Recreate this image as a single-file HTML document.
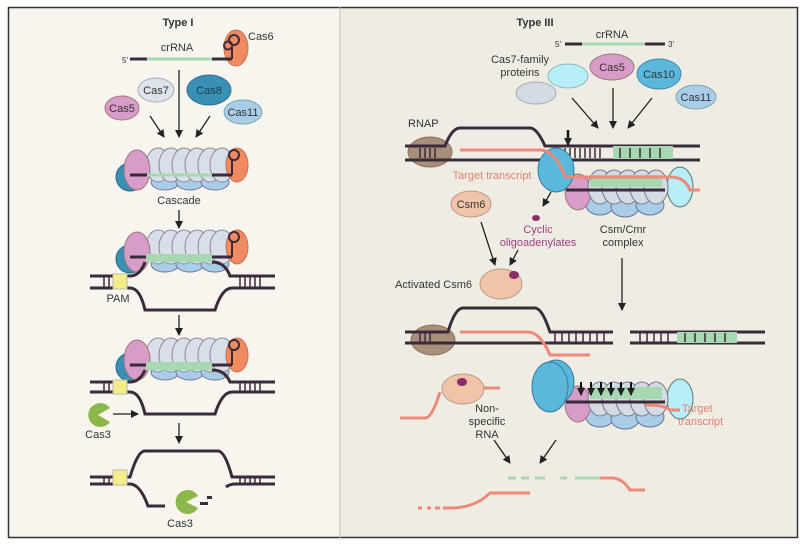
<!DOCTYPE html>
<html><head><meta charset="utf-8"><style>
html,body{margin:0;padding:0;background:#fff;}
svg{display:block;font-family:"Liberation Sans",sans-serif;}
</style></head><body>
<svg width="800" height="546" viewBox="0 0 800 546" xmlns="http://www.w3.org/2000/svg">
<defs>
<marker id="ah" markerWidth="8" markerHeight="8" refX="7" refY="4" orient="auto" markerUnits="userSpaceOnUse"><path d="M0,0 L8,4 L0,8 Z" fill="#222"/></marker>
</defs>
<rect x="0" y="0" width="800" height="546" fill="#fff"/>
<rect x="8" y="7" width="332" height="531" fill="#f7f5ee"/>
<rect x="340" y="7" width="458" height="531" fill="#efede3"/>
<rect x="8.5" y="7.5" width="789" height="530" fill="none" stroke="#333" stroke-width="1.5"/>
<line x1="340" y1="7" x2="340" y2="538" stroke="#bbb" stroke-width="1"/>

<g font-size="11" fill="#333">
<!-- ===== TYPE I ===== -->
<text x="178" y="26" font-weight="bold" text-anchor="middle" font-size="11">Type I</text>
<text x="177" y="51" text-anchor="middle">crRNA</text>
<text x="122" y="63" font-size="8">5′</text>
<ellipse cx="236" cy="48" rx="12" ry="18" fill="#f08a60" stroke="#c9704a"/>
<line x1="130" y1="59" x2="232" y2="59" stroke="#3a2a3a" stroke-width="3"/>
<line x1="147" y1="59" x2="212" y2="59" stroke="#a8d8b0" stroke-width="3"/>
<path d="M232,59 V46 a4,4 0 1 1 0,-1" fill="none" stroke="#3a2a3a" stroke-width="2"/>
<circle cx="234" cy="40" r="5" fill="none" stroke="#3a2a3a" stroke-width="2"/>
<text x="248" y="40">Cas6</text>
<line x1="179" y1="70" x2="179" y2="137" stroke="#222" stroke-width="1.3" marker-end="url(#ah)"/>
<ellipse cx="156" cy="90" rx="18" ry="12" fill="#dde3ea" stroke="#aab"/>
<text x="156" y="94" text-anchor="middle">Cas7</text>
<ellipse cx="209" cy="90" rx="22" ry="15" fill="#3a8fb5" stroke="#2a7095"/>
<text x="209" y="94" text-anchor="middle" fill="#1d3b4f">Cas8</text>
<ellipse cx="122" cy="108" rx="17" ry="12" fill="#d79cc8" stroke="#a77"/>
<text x="122" y="112" text-anchor="middle">Cas5</text>
<ellipse cx="243" cy="112" rx="19" ry="12" fill="#a9cde8" stroke="#7aa"/>
<text x="243" y="116" text-anchor="middle">Cas11</text>
<line x1="150" y1="116" x2="164" y2="137" stroke="#222" stroke-width="1.3" marker-end="url(#ah)"/>
<line x1="210" y1="116" x2="196" y2="137" stroke="#222" stroke-width="1.3" marker-end="url(#ah)"/>

<!-- cascade complex generic -->
<g id="casc">
<ellipse cx="130" cy="177" rx="14" ry="14" fill="#3a8fb5" stroke="#2a6a8a"/>
<ellipse cx="165" cy="182" rx="14" ry="8" fill="#a9cde8" stroke="#779"/>
<ellipse cx="190" cy="182" rx="14" ry="8" fill="#a9cde8" stroke="#779"/>
<ellipse cx="215" cy="182" rx="14" ry="8" fill="#a9cde8" stroke="#779"/>
<ellipse cx="158" cy="165" rx="12" ry="17" fill="#d8dfe8" stroke="#889"/>
<ellipse cx="171" cy="165" rx="12" ry="17" fill="#d8dfe8" stroke="#889"/>
<ellipse cx="184" cy="165" rx="12" ry="17" fill="#d8dfe8" stroke="#889"/>
<ellipse cx="197" cy="165" rx="12" ry="17" fill="#d8dfe8" stroke="#889"/>
<ellipse cx="210" cy="165" rx="12" ry="17" fill="#d8dfe8" stroke="#889"/>
<ellipse cx="222" cy="165" rx="12" ry="17" fill="#d8dfe8" stroke="#889"/>
<ellipse cx="137" cy="170" rx="13" ry="20" fill="#d79cc8" stroke="#977"/>
<ellipse cx="237" cy="165" rx="11" ry="17" fill="#f08a60" stroke="#c9704a"/>
<line x1="130" y1="175" x2="232" y2="175" stroke="#3a2a3a" stroke-width="3"/>
<line x1="147" y1="175" x2="212" y2="175" stroke="#a8d8b0" stroke-width="3"/>
<path d="M232,175 V160" stroke="#3a2a3a" stroke-width="2"/>
<circle cx="234" cy="155" r="5" fill="none" stroke="#3a2a3a" stroke-width="2"/>
</g>
<text x="179" y="204" text-anchor="middle">Cascade</text>
<line x1="179" y1="210" x2="179" y2="228" stroke="#222" stroke-width="1.3" marker-end="url(#ah)"/>

<!-- second -->
<use href="#casc" transform="translate(0,82)"/>
<rect x="146" y="254" width="66" height="8" fill="#a8d8b0"/>
<path d="M90,276 H130 Q140,276 145,262 M212,262 Q225,262 230,276 H275" fill="none" stroke="#3a2a3a" stroke-width="3"/>
<path d="M90,288 H130 Q140,288 145,310 H215 Q222,288 232,288 H275" fill="none" stroke="#3a2a3a" stroke-width="3"/>
<rect x="113" y="274" width="14" height="15" fill="#f5ec8a" stroke="#bba"/>
<g stroke="#3a2a3a" stroke-width="1.5"><line x1="104" y1="277" x2="104" y2="287"/><line x1="109" y1="277" x2="109" y2="287"/><line x1="240" y1="277" x2="240" y2="287"/><line x1="245" y1="277" x2="245" y2="287"/><line x1="250" y1="277" x2="250" y2="287"/><line x1="255" y1="277" x2="255" y2="287"/><line x1="260" y1="277" x2="260" y2="287"/></g>
<text x="118" y="302" text-anchor="middle">PAM</text>
<line x1="179" y1="315" x2="179" y2="335" stroke="#222" stroke-width="1.3" marker-end="url(#ah)"/>

<!-- third -->
<use href="#casc" transform="translate(0,190)"/>
<rect x="146" y="362" width="66" height="8" fill="#a8d8b0"/>
<path d="M90,382 H130 Q140,382 145,370 M212,370 Q225,370 230,382 H275" fill="none" stroke="#3a2a3a" stroke-width="3"/>
<path d="M90,392 H130 Q140,392 145,414 H215 Q222,392 232,392 H275" fill="none" stroke="#3a2a3a" stroke-width="3"/>
<rect x="113" y="380" width="14" height="14" fill="#f5ec8a" stroke="#bba"/>
<g stroke="#3a2a3a" stroke-width="1.5"><line x1="104" y1="383" x2="104" y2="391"/><line x1="109" y1="383" x2="109" y2="391"/><line x1="240" y1="383" x2="240" y2="391"/><line x1="245" y1="383" x2="245" y2="391"/><line x1="250" y1="383" x2="250" y2="391"/><line x1="255" y1="383" x2="255" y2="391"/><line x1="260" y1="383" x2="260" y2="391"/></g>
<path d="M98,415 L110,408 A12,12 0 1 0 110,422 Z" fill="#8ab84a"/>
<line x1="113" y1="414" x2="138" y2="414" stroke="#222" stroke-width="1.3" marker-end="url(#ah)"/>
<text x="98" y="438" text-anchor="middle">Cas3</text>
<line x1="179" y1="423" x2="179" y2="443" stroke="#222" stroke-width="1.3" marker-end="url(#ah)"/>

<!-- bottom -->
<path d="M90,477 H130 Q138,450 145,451 H218 Q225,451 232,477 H275" fill="none" stroke="#3a2a3a" stroke-width="3"/>
<path d="M90,484 H130 Q140,484 148,506 H165" fill="none" stroke="#3a2a3a" stroke-width="3"/>
<path d="M226,487 Q230,484 235,484 H275" fill="none" stroke="#3a2a3a" stroke-width="3"/>
<rect x="113" y="470" width="14" height="15" fill="#f5ec8a" stroke="#bba"/>
<g stroke="#3a2a3a" stroke-width="1.5"><line x1="104" y1="478" x2="104" y2="484"/><line x1="109" y1="478" x2="109" y2="484"/><line x1="240" y1="478" x2="240" y2="484"/><line x1="245" y1="478" x2="245" y2="484"/><line x1="250" y1="478" x2="250" y2="484"/><line x1="255" y1="478" x2="255" y2="484"/><line x1="260" y1="478" x2="260" y2="484"/></g>
<path d="M186,502 L198,496 A12,12 0 1 0 198,508 Z" fill="#8ab84a"/>
<rect x="200" y="502" width="8" height="3" fill="#3a2a3a"/><rect x="207" y="496" width="5" height="3" fill="#3a2a3a"/>
<text x="180" y="527" text-anchor="middle">Cas3</text>

<!-- ===== TYPE III ===== -->
<text x="535" y="26" font-weight="bold" text-anchor="middle">Type III</text>
<text x="612" y="38" text-anchor="middle">crRNA</text>
<text x="555" y="47" font-size="8">5′</text>
<text x="668" y="47" font-size="8">3′</text>
<line x1="565" y1="44" x2="665" y2="44" stroke="#3a2a3a" stroke-width="3"/>
<line x1="582" y1="44" x2="645" y2="44" stroke="#a8d8b0" stroke-width="3"/>
<text x="520" y="63" text-anchor="middle">Cas7-family</text>
<text x="520" y="76" text-anchor="middle">proteins</text>
<ellipse cx="568" cy="76" rx="20" ry="12" fill="#b8eef8" stroke="#8bb"/>
<ellipse cx="536" cy="93" rx="20" ry="11" fill="#d3dbe3" stroke="#aab"/>
<ellipse cx="612" cy="67" rx="22" ry="13" fill="#d79cc8" stroke="#977"/>
<text x="612" y="71" text-anchor="middle">Cas5</text>
<ellipse cx="659" cy="74" rx="22" ry="15" fill="#5bb8dd" stroke="#3a8ab0"/>
<text x="659" y="78" text-anchor="middle">Cas10</text>
<ellipse cx="696" cy="97" rx="20" ry="12" fill="#a9cde8" stroke="#7aa"/>
<text x="696" y="101" text-anchor="middle">Cas11</text>
<line x1="572" y1="98" x2="598" y2="128" stroke="#222" stroke-width="1.3" marker-end="url(#ah)"/>
<line x1="613" y1="88" x2="613" y2="128" stroke="#222" stroke-width="1.3" marker-end="url(#ah)"/>
<line x1="652" y1="98" x2="628" y2="128" stroke="#222" stroke-width="1.3" marker-end="url(#ah)"/>

<text x="408" y="127">RNAP</text>
<ellipse cx="430" cy="152" rx="22" ry="15" fill="#a88f7a" stroke="#8a7060"/>
<path d="M405,146 H445 Q452,128 460,128 H530 Q537,128 545,146 H700" fill="none" stroke="#3a2a3a" stroke-width="3"/>
<path d="M405,160 H700" fill="none" stroke="#3a2a3a" stroke-width="3"/>
<rect x="613" y="146" width="60" height="13" fill="#a8d8b0"/>
<g stroke="#3a2a3a" stroke-width="1.5"><line x1="420" y1="148" x2="420" y2="158"/><line x1="425" y1="148" x2="425" y2="158"/><line x1="430" y1="148" x2="430" y2="158"/><line x1="435" y1="148" x2="435" y2="158"/><line x1="555" y1="148" x2="555" y2="158"/><line x1="560" y1="148" x2="560" y2="158"/><line x1="565" y1="148" x2="565" y2="158"/><line x1="570" y1="148" x2="570" y2="158"/><line x1="575" y1="148" x2="575" y2="158"/><line x1="580" y1="148" x2="580" y2="158"/><line x1="585" y1="148" x2="585" y2="158"/><line x1="590" y1="148" x2="590" y2="158"/><line x1="595" y1="148" x2="595" y2="158"/><line x1="600" y1="148" x2="600" y2="158"/><line x1="620" y1="148" x2="620" y2="158"/><line x1="630" y1="148" x2="630" y2="158"/><line x1="640" y1="148" x2="640" y2="158"/><line x1="650" y1="148" x2="650" y2="158"/><line x1="660" y1="148" x2="660" y2="158"/></g>
<line x1="568" y1="130" x2="568" y2="145" stroke="#111" stroke-width="2.5" marker-end="url(#ah)"/>
<!-- csm complex -->
<g id="csm">
<ellipse cx="680" cy="187" rx="13" ry="20" fill="#b8eef8" stroke="#577"/>
<ellipse cx="600" cy="205" rx="14" ry="10" fill="#a9cde8" stroke="#679"/>
<ellipse cx="625" cy="207" rx="14" ry="10" fill="#a9cde8" stroke="#679"/>
<ellipse cx="650" cy="205" rx="14" ry="10" fill="#a9cde8" stroke="#679"/>
<ellipse cx="578" cy="192" rx="13" ry="18" fill="#d79cc8" stroke="#977"/>
<ellipse cx="600" cy="187" rx="12" ry="17" fill="#d3dbe3" stroke="#778"/>
<ellipse cx="614" cy="187" rx="12" ry="17" fill="#d3dbe3" stroke="#778"/>
<ellipse cx="628" cy="187" rx="12" ry="17" fill="#d3dbe3" stroke="#778"/>
<ellipse cx="642" cy="187" rx="12" ry="17" fill="#d3dbe3" stroke="#778"/>
<ellipse cx="656" cy="187" rx="12" ry="17" fill="#d3dbe3" stroke="#778"/>
<ellipse cx="556" cy="170" rx="18" ry="22" fill="#5bb8dd" stroke="#3a7a9a"/>
<line x1="566" y1="190" x2="665" y2="190" stroke="#3a2a3a" stroke-width="3"/>
<rect x="590" y="175" width="72" height="12" fill="#a8d8b0"/>
</g>
<path d="M460,150 H540 Q555,150 565,177 H670 Q685,177 690,190 H700" fill="none" stroke="#ec8a78" stroke-width="3"/>
<text x="492" y="179" text-anchor="middle" fill="#e08070">Target transcript</text>
<line x1="551" y1="192" x2="543" y2="206" stroke="#222" stroke-width="1.3" marker-end="url(#ah)"/>
<ellipse cx="536" cy="218" rx="4" ry="3" fill="#8a2d6a"/>
<text x="538" y="233" text-anchor="middle" fill="#a04080">Cyclic</text>
<text x="538" y="246" text-anchor="middle" fill="#a04080">oligoadenylates</text>
<text x="623" y="233" text-anchor="middle">Csm/Cmr</text>
<text x="623" y="246" text-anchor="middle">complex</text>
<ellipse cx="471" cy="204" rx="20" ry="13" fill="#f0c4a8" stroke="#b98"/>
<text x="471" y="208" text-anchor="middle">Csm6</text>
<line x1="481" y1="222" x2="495" y2="265" stroke="#222" stroke-width="1.3" marker-end="url(#ah)"/>
<line x1="518" y1="250" x2="510" y2="265" stroke="#222" stroke-width="1.3" marker-end="url(#ah)"/>
<text x="472" y="288" text-anchor="end">Activated Csm6</text>
<ellipse cx="501" cy="284" rx="21" ry="15" fill="#f0c4a8" stroke="#b98"/>
<ellipse cx="514" cy="275" rx="5" ry="4" fill="#8a2d6a"/>
<line x1="622" y1="258" x2="622" y2="310" stroke="#222" stroke-width="1.3" marker-end="url(#ah)"/>

<!-- row DNA -->
<ellipse cx="433" cy="340" rx="22" ry="15" fill="#a88f7a" stroke="#8a7060"/>
<path d="M405,332 H448 Q455,308 463,308 H535 Q542,308 550,332 H613" fill="none" stroke="#3a2a3a" stroke-width="3"/>
<path d="M405,343 H613" fill="none" stroke="#3a2a3a" stroke-width="3"/>
<path d="M630,332 H765 M630,343 H765" fill="none" stroke="#3a2a3a" stroke-width="3"/>
<rect x="677" y="332" width="60" height="11" fill="#a8d8b0"/>
<g stroke="#3a2a3a" stroke-width="1.5"><line x1="420" y1="333" x2="420" y2="342"/><line x1="425" y1="333" x2="425" y2="342"/><line x1="430" y1="333" x2="430" y2="342"/><line x1="555" y1="333" x2="555" y2="342"/><line x1="562" y1="333" x2="562" y2="342"/><line x1="569" y1="333" x2="569" y2="342"/><line x1="576" y1="333" x2="576" y2="342"/><line x1="583" y1="333" x2="583" y2="342"/><line x1="590" y1="333" x2="590" y2="342"/><line x1="597" y1="333" x2="597" y2="342"/><line x1="604" y1="333" x2="604" y2="342"/><line x1="640" y1="333" x2="640" y2="342"/><line x1="647" y1="333" x2="647" y2="342"/><line x1="654" y1="333" x2="654" y2="342"/><line x1="661" y1="333" x2="661" y2="342"/><line x1="668" y1="333" x2="668" y2="342"/><line x1="685" y1="333" x2="685" y2="342"/><line x1="695" y1="333" x2="695" y2="342"/><line x1="705" y1="333" x2="705" y2="342"/><line x1="715" y1="333" x2="715" y2="342"/><line x1="725" y1="333" x2="725" y2="342"/></g>
<path d="M460,332 H528 Q540,332 550,355 H590" fill="none" stroke="#ec8a78" stroke-width="3"/>

<!-- bottom right -->
<path d="M478,388 H500 M440,392 Q432,418 425,418 H400" fill="none" stroke="#ec8a78" stroke-width="3"/>
<ellipse cx="463" cy="389" rx="21" ry="15" fill="#f0c4a8" stroke="#b98"/>
<ellipse cx="462" cy="382" rx="5" ry="4" fill="#8a2d6a"/>
<text x="487" y="412" text-anchor="middle">Non-</text>
<text x="487" y="425" text-anchor="middle">specific</text>
<text x="487" y="438" text-anchor="middle">RNA</text>
<use href="#csm" transform="translate(0,212)"/>
<ellipse cx="550" cy="387" rx="18" ry="25" fill="#5bb8dd" stroke="#3a7a9a"/>
<path d="M645,405 Q665,405 670,410 H680" fill="none" stroke="#ec8a78" stroke-width="3"/>
<g stroke="#111" stroke-width="2"><line x1="581" y1="382" x2="581" y2="395" marker-end="url(#ah)"/><line x1="591" y1="382" x2="591" y2="395" marker-end="url(#ah)"/><line x1="601" y1="382" x2="601" y2="395" marker-end="url(#ah)"/><line x1="611" y1="382" x2="611" y2="395" marker-end="url(#ah)"/><line x1="621" y1="382" x2="621" y2="395" marker-end="url(#ah)"/><line x1="631" y1="382" x2="631" y2="395" marker-end="url(#ah)"/></g>
<text x="682" y="412" fill="#e08070">Target</text>
<text x="678" y="425" fill="#e08070">transcript</text>
<line x1="494" y1="440" x2="510" y2="463" stroke="#222" stroke-width="1.3" marker-end="url(#ah)"/>
<line x1="556" y1="440" x2="540" y2="463" stroke="#222" stroke-width="1.3" marker-end="url(#ah)"/>
<path d="M508,478 H516 M521,478 H529 M535,478 H545 M560,478 H567" stroke="#a8d8b0" stroke-width="3"/>
<path d="M575,478 H600" stroke="#a8d8b0" stroke-width="3"/>
<path d="M600,478 H612 Q622,478 630,490 H645" fill="none" stroke="#ec8a78" stroke-width="3"/>
<path d="M450,508 Q475,508 490,493 H530" fill="none" stroke="#ec8a78" stroke-width="3"/>
<path d="M418,508 H422 M427,508 H431 M435,508 H440 M443,508 H450" stroke="#ec8a78" stroke-width="3"/>
</g>
</svg>
</body></html>
